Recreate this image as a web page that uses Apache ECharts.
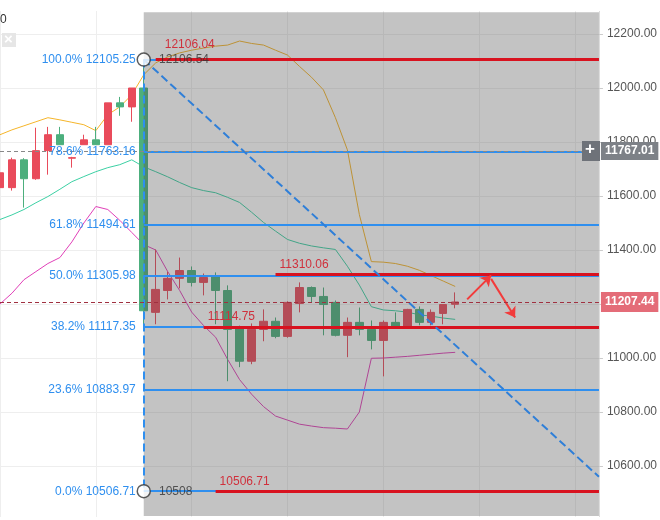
<!DOCTYPE html>
<html>
<head>
<meta charset="utf-8">
<script src="https://cdn.jsdelivr.net/npm/echarts@6/dist/echarts.min.js"></script>
<style>html,body{margin:0;padding:0;background:#fff}#main{width:660px;height:520px}</style>
</head>
<body>
<div id="main"></div>
<script>
// K线数据 [开, 收, 低, 高]
var openV  = [11631,11631,11734,11664,11768,11827,11740,11790,11808,11790,11945,11930,12000,11169,11250,11295,11324,11280,11302,11250,11113,10988,11106,11136,11080,11202,11261,11228,11206,11084,11132,11106,11065,11132,11117,11180,11132,11165,11199];
var closeV = [11686,11734,11664,11768,11827,11790,11742,11808,11790,11945,11930,12000,11175,11254,11295,11324,11280,11298,11250,11106,10988,11106,11136,11080,11206,11261,11228,11198,11084,11132,11106,11065,11132,11117,11180,11132,11169,11198,11207.44];
var lowV   = [11610,11620,11557,11660,11679,11790,11705,11790,11790,11790,11897,11875,11110,11125,11217,11258,11265,11232,11125,10914,10966,10977,11062,11073,11075,11169,11206,11084,11080,11003,11084,11032,10932,11117,11110,11121,11121,11125,11184];
var highV  = [11700,11742,11740,11853,11856,11856,11745,11827,11856,11945,11967,12000,12105,11402,11320,11372,11339,11313,11317,11269,11120,11128,11180,11150,11210,11280,11265,11261,11213,11150,11187,11139,11139,11169,11182,11191,11180,11198,11243];
// 布林带
var upperV = [11827,11845,11860,11875,11890,11882,11873,11864,11842,11901,11930,11975,12049,12093,12115,12130,12140,12148,12155,12159,12174,12165,12159,12140,12122,12080,12040,11993,11890,11771,11531,11357,11355,11350,11340,11325,11305,11285,11265];
var midV   = [11513,11530,11550,11575,11598,11625,11653,11672,11690,11705,11716,11734,11708,11690,11671,11650,11631,11620,11612,11595,11576,11540,11502,11470,11439,11425,11415,11408,11402,11340,11270,11190,11178,11175,11170,11160,11155,11148,11143];
var lowerV = [11200,11240,11290,11320,11350,11372,11430,11500,11561,11550,11510,11465,11420,11400,11320,11250,11170,11120,11077,10995,10920,10866,10820,10785,10770,10755,10748,10742,10740,10737,10800,10999,11000,11003,11006,11010,11014,11018,11021];
// 斐波那契
var fibPct = ['100.0%','78.6%','61.8%','50.0%','38.2%','23.6%','0.0%'];
var fibVal = [12105.25,11763.16,11494.61,11305.98,11117.35,10883.97,10506.71];
var redVal = [12106.04,11310.06,11114.75,10506.71];
var redStart = [1,11,5,6]; // 相对起点偏移
var lastPrice = 11207.44;
var markPrice = 11767.01;

var cats = [];
for (var i = 0; i < 51; i++) cats.push(String(i));
var kdata = openV.map(function (o, i) { return [o, closeV[i], lowV[i], highV[i]]; });

var blue = '#2f8fef';
var fibLines = [];
fibVal.forEach(function (v, i) {
  fibLines.push([
    {coord: ['12', v], label: {show: true, position: 'start', formatter: fibPct[i] + ' ' + v.toFixed(2), color: blue, fontSize: 12, distance: 8}},
    {coord: ['50', v]}
  ]);
});
var redLines = redVal.map(function (v, i) {
  return [
    {coord: [String(12 + redStart[i]), v], lineStyle: {color: '#d8121f', width: 3, type: 'solid'},
     label: {show: true, position: 'insideStartTop', formatter: v.toFixed(2), color: '#d0303c', fontSize: 12, distance: i == 0 ? 9 : 4}},
    {coord: ['50', v]}
  ];
});

var chart = echarts.init(document.getElementById('main'));
var option = {
  animation: false,
  grid: {left: 0, right: 60, top: 7, bottom: -1},
  xAxis: {
    type: 'category', data: cats, boundaryGap: false,
    axisLine: {show: false}, axisTick: {show: false}, axisLabel: {show: false},
    splitLine: {show: true, interval: 7, lineStyle: {color: '#eee'}}
  },
  yAxis: {
    type: 'value', position: 'right', min: 10400, max: 12300, interval: 200, scale: true,
    axisLine: {show: true, lineStyle: {color: '#ddd'}},
    axisTick: {show: true, length: 4, lineStyle: {color: '#ccc'}},
    axisLabel: {color: '#555', fontSize: 12, margin: 8, formatter: function (v) {
      return (v == 10400 || v == 12300) ? '' : v.toFixed(2);
    }},
    splitLine: {lineStyle: {color: '#eee'}}
  },
  series: [
    {
      type: 'candlestick', data: kdata, barWidth: 8, z: 2,
      itemStyle: {color: '#e94b5b', color0: '#4caf7d', borderColor: '#e94b5b', borderColor0: '#4caf7d'}
    },
    {type: 'line', data: upperV, symbol: 'none', z: 2, lineStyle: {color: '#f5b52a', width: 1}},
    {type: 'line', data: midV, symbol: 'none', z: 2, lineStyle: {color: '#3cd0a4', width: 1}},
    {type: 'line', data: lowerV, symbol: 'none', z: 2, lineStyle: {color: '#e040b8', width: 1}},
    {
      // 灰色遮罩
      type: 'line', data: [], z: 10, symbol: 'none',
      markArea: {silent: true, z: 10, itemStyle: {color: 'rgba(80,80,80,0.34)'},
        data: [[{coord: ['12', 12281]}, {coord: ['50', 10415]}]]}
    },
    {
      type: 'line', data: [], z: 20, symbol: 'none',
      markLine: {
        silent: true, symbol: 'none', animation: false, z: 20,
        lineStyle: {color: blue, width: 2, type: 'solid'},
        data: fibLines.concat(redLines).concat([
          [{coord: ['12', fibVal[0]], lineStyle: {color: blue, width: 2, type: 'dashed'}, label: {show: false}}, {coord: ['12', fibVal[6]]}],
          [{coord: ['12', fibVal[0]], lineStyle: {color: '#2f7fd8', width: 2, type: 'dashed'}, label: {show: false}}, {coord: ['50', 10560]}],
          [{coord: ['42', 12281], lineStyle: {color: '#6b6f78', width: 1, type: [4, 4]}, label: {show: false}}, {coord: ['42', 10300]}],
          [{coord: ['39', 11217], symbol: 'none', lineStyle: {color: '#f23b3b', width: 2}, label: {show: false}}, {coord: ['41', 11306], symbol: 'arrow', symbolSize: 10}],
          [{coord: ['41', 11293], symbol: 'none', lineStyle: {color: '#f23b3b', width: 2}, label: {show: false}}, {coord: ['43', 11150], symbol: 'arrow', symbolSize: 10}],
          [{coord: ['0', markPrice], lineStyle: {color: '#888', width: 1, type: [4, 3]},
            label: {show: true, position: 'end', distance: 2, formatter: '{v|' + markPrice.toFixed(2) + '}', rich: {v: {color: '#fff', fontWeight: 'bold', fontSize: 12, backgroundColor: '#7d8187', padding: [3, 4]}}}},
           {coord: ['50', markPrice]}],
          [{coord: ['0', lastPrice], lineStyle: {color: '#a03040', width: 1, type: [4, 3]},
            label: {show: true, position: 'end', distance: 2, formatter: '{v|' + lastPrice.toFixed(2) + '}', rich: {v: {color: '#fff', fontWeight: 'bold', fontSize: 12, backgroundColor: '#e46c78', padding: [4, 4]}}}},
           {coord: ['50', lastPrice]}]
        ])
      }
    },
    {
      type: 'scatter', z: 30, symbol: 'circle', symbolSize: 13,
      itemStyle: {color: '#fff', borderColor: '#333', borderWidth: 1.5},
      label: {show: true, position: 'right', distance: 8, color: '#333', fontSize: 12},
      data: [
        {value: ['12', fibVal[0]], label: {formatter: '12106.54'}},
        {value: ['12', fibVal[6]], label: {formatter: '10508'}}
      ]
    }
  ],
  graphic: [
    {type: 'rect', left: 0, top: 0, shape: {width: 660, height: 11}, style: {fill: '#fff'}, z: 100},
    {type: 'rect', left: 0, top: 517, shape: {width: 602, height: 3}, style: {fill: '#fff'}, z: 100},
    {type: 'text', left: 0, top: 14, style: {text: '0', fill: '#333', font: '12px sans-serif'}, z: 100},
    {type: 'rect', left: 2, top: 33, shape: {width: 14, height: 14}, style: {fill: '#e6e6e6'}, z: 100},
    {type: 'text', left: 4, top: 32, style: {text: '×', fill: '#fff', font: 'bold 15px sans-serif'}, z: 101},
    {type: 'rect', left: 582, top: 141, shape: {width: 18, height: 20}, style: {fill: '#6e7279'}, z: 100},
    {type: 'text', left: 585, top: 141, style: {text: '+', fill: '#fff', font: 'bold 17px sans-serif'}, z: 101}
  ]
};
chart.setOption(option);
</script>
</body>
</html>
